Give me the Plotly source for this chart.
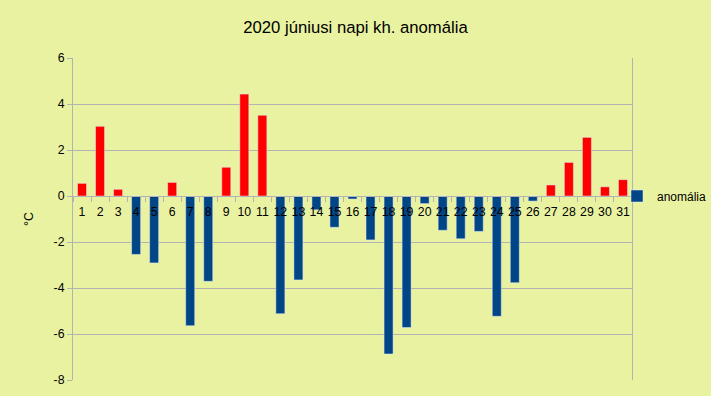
import plotly.graph_objects as go

days = [str(i) for i in range(1, 32)]
anomaly = [0.55, 3.03, 0.29, -2.54, -2.91, 0.59, -5.64, -3.71, 1.25, 4.43,
           3.51, -5.12, -3.65, -0.6, -1.36, -0.13, -1.91, -6.87, -5.72, -0.33,
           -1.49, -1.86, -1.54, -5.23, -3.77, -0.22, 0.48, 1.46, 2.55, 0.4, 0.71]
y_ticks = [6, 4, 2, 0, -2, -4, -6, -8]
y_tick_text = ["6", "4", "2", "0", "-2", "-4", "-6", "-8"]
series_name = "anomália"
title_text = "2020 júniusi napi kh. anomália"
y_title = "°C"

BG = "#e9f2a1"
GRID = "#b3b3b3"
RED = "#ff0000"
BLUE = "#004586"
FONT = "Liberation Sans, Arial, sans-serif"

pos = [v if v >= 0 else None for v in anomaly]
neg = [v if v < 0 else None for v in anomaly]

fig = go.Figure()
fig.add_trace(go.Bar(x=days, y=neg, name=series_name, marker_color=BLUE,
                     width=0.5, showlegend=True))
fig.add_trace(go.Bar(x=days, y=pos, name=series_name, marker_color=RED,
                     width=0.5, showlegend=False))

ymin, ymax = -8, 6
zero_pos = (0 - ymin) / (ymax - ymin)

fig.update_layout(
    width=711, height=396,
    paper_bgcolor=BG, plot_bgcolor=BG,
    margin=dict(l=73, r=79, t=58, b=16, autoexpand=False),
    barmode="overlay",
    font=dict(family=FONT, size=12, color="#000000"),
    title=dict(text=title_text, x=0.5, xanchor="center", y=1 - 27 / 396,
               yanchor="middle", font=dict(size=16.7, family=FONT)),
    xaxis=dict(type="category", anchor="free", position=zero_pos,
               showline=True, linecolor=GRID, linewidth=1,
               ticks="outside", tickson="boundaries", ticklen=5,
               tickcolor=GRID, showgrid=False, zeroline=False,
               tickangle=0, automargin=False, ticklabelstandoff=4,
               tickfont=dict(size=12.3), fixedrange=True),
    yaxis=dict(range=[ymin, ymax], tickvals=y_ticks, ticktext=y_tick_text,
               showline=True, linecolor=GRID, mirror=True, linewidth=1,
               ticks="outside", ticklen=5, tickcolor=GRID,
               showgrid=True, gridcolor=GRID, gridwidth=1, zeroline=False,
               title=dict(text=y_title, standoff=17, font=dict(size=12.3)),
               automargin=False, tickfont=dict(size=12.3)),
    legend=dict(x=(617 - 73) / 559, xanchor="left", y=zero_pos, yanchor="middle",
                bgcolor="rgba(0,0,0,0)", font=dict(size=12),
                borderwidth=0),
)

fig.write_html("out.html")
